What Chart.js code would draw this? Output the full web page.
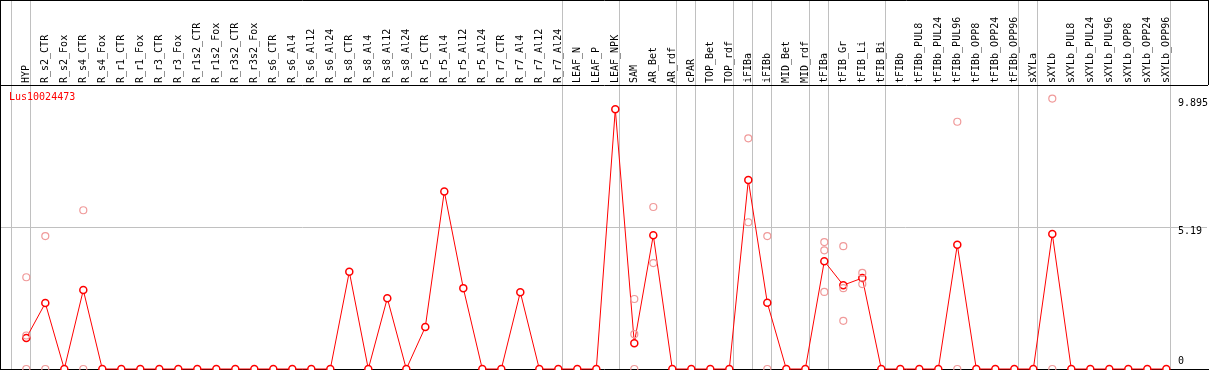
<!DOCTYPE html>
<html>
<head>
<meta charset="utf-8">
<script src="https://cdn.jsdelivr.net/npm/chart.js@4/dist/chart.umd.min.js"></script>
<style>
  body { margin: 0; background: #fff; }
</style>
</head>
<body>
<canvas id="chart1" width="1209" height="370"></canvas>
<script>
// categories along the top (one column each)
var categories = ['HYP', 'R_s2_CTR', 'R_s2_Fox', 'R_s4_CTR', 'R_s4_Fox', 'R_r1_CTR', 'R_r1_Fox',
  'R_r3_CTR', 'R_r3_Fox', 'R_r1s2_CTR', 'R_r1s2_Fox', 'R_r3s2_CTR', 'R_r3s2_Fox',
  'R_s6_CTR', 'R_s6_Al4', 'R_s6_Al12', 'R_s6_Al24', 'R_s8_CTR', 'R_s8_Al4', 'R_s8_Al12', 'R_s8_Al24',
  'R_r5_CTR', 'R_r5_Al4', 'R_r5_Al12', 'R_r5_Al24', 'R_r7_CTR', 'R_r7_Al4', 'R_r7_Al12', 'R_r7_Al24',
  'LEAF_N', 'LEAF_P', 'LEAF_NPK', 'SAM', 'AR_Bet', 'AR_rdf', 'cPAR', 'TOP_Bet', 'TOP_rdf',
  'iFIBa', 'iFIBb', 'MID_Bet', 'MID_rdf', 'tFIBa', 'tFIB_Gr', 'tFIB_Li', 'tFIB_Bi',
  'tFIBb', 'tFIBb_PUL8', 'tFIBb_PUL24', 'tFIBb_PUL96', 'tFIBb_OPP8', 'tFIBb_OPP24', 'tFIBb_OPP96',
  'sXYLa', 'sXYLb', 'sXYLb_PUL8', 'sXYLb_PUL24', 'sXYLb_PUL96', 'sXYLb_OPP8', 'sXYLb_OPP24', 'sXYLb_OPP96'];

// mean expression per category (the red line)
var geneName = 'Lus10024473';
var meanValues = [1.14, 2.42, 0, 2.90, 0, 0, 0, 0, 0, 0, 0, 0, 0,
  0, 0, 0, 0, 3.57, 0, 2.60, 0,
  1.54, 6.52, 2.97, 0, 0, 2.82, 0, 0,
  0, 0, 9.54, 0.95, 4.91, 0, 0, 0, 0,
  6.94, 2.43, 0, 0, 3.96, 3.08, 3.34, 0,
  0, 0, 0, 4.56, 0, 0, 0,
  0, 4.96, 0, 0, 0, 0, 0, 0];

// single replicates (light pink circles)
var repCategory = ['HYP', 'HYP', 'HYP', 'R_s2_CTR', 'R_s2_CTR', 'R_s4_CTR', 'R_s4_CTR',
  'SAM', 'SAM', 'SAM', 'AR_Bet', 'AR_Bet', 'iFIBa', 'iFIBa', 'iFIBb', 'iFIBb',
  'tFIBa', 'tFIBa', 'tFIBa', 'tFIB_Gr', 'tFIB_Gr', 'tFIB_Gr', 'tFIB_Li', 'tFIB_Li',
  'tFIBb_PUL96', 'tFIBb_PUL96', 'sXYLb', 'sXYLb'];
var repValue = [3.37, 1.23, 0, 4.88, 0, 5.83, 0,
  2.57, 1.28, 0, 5.95, 3.89, 8.47, 5.39, 4.88, 0,
  4.66, 4.36, 2.83, 4.51, 2.97, 1.77, 3.53, 3.12,
  9.08, 0, 9.93, 0];

// grey separators sit just right of these columns
var separatorAfter = [-1, 0, 28, 31, 34, 35, 37, 38, 39, 41, 42, 45, 52, 53, 60];

// right hand axis
var yTickValues = [0, 5.19, 9.895];
var yTickLabels = ['0', '5.19', '9.895'];

var monoFont = { family: 'DejaVu Sans Mono', size: 10 };
var sepShift = 4 / 19;

function isSeparator(v) {
  return !Number.isInteger(v);
}

// black frame round header and plot
var framePlugin = {
  id: 'frame',
  beforeDatasetsDraw: function(chart) {
    var ctx = chart.ctx, a = chart.chartArea, w = chart.width, h = chart.height;
    ctx.save();
    ctx.strokeStyle = '#000';
    ctx.lineWidth = 1;
    ctx.beginPath();
    ctx.moveTo(0, 0.5); ctx.lineTo(w, 0.5);
    ctx.moveTo(0.5, 0); ctx.lineTo(0.5, h);
    ctx.moveTo(w - 0.5, 0); ctx.lineTo(w - 0.5, a.top);
    ctx.moveTo(0, a.bottom + 0.5); ctx.lineTo(w, a.bottom + 0.5);
    ctx.stroke();
    ctx.restore();
  }
};

// gene name in the top left corner of the plot
var namePlugin = {
  id: 'geneName',
  afterDraw: function(chart) {
    var ctx = chart.ctx, a = chart.chartArea;
    ctx.save();
    ctx.font = '10px "DejaVu Sans Mono"';
    ctx.fillStyle = '#ff0000';
    ctx.textBaseline = 'middle';
    ctx.fillText(chart.data.datasets[1].label, a.left + 8, a.top + 12);
    ctx.restore();
  }
};

var meanPoints = categories.map(function(c, i) { return { x: i, y: meanValues[i] }; });
var repPoints = repCategory.map(function(c, i) { return { x: categories.indexOf(c), y: repValue[i] }; });

new Chart(document.getElementById('chart1'), {
  type: 'line',
  data: {
    datasets: [{
      type: 'scatter',
      label: 'replicates',
      data: repPoints,
      showLine: false,
      borderColor: '#f09a9a',
      backgroundColor: 'rgba(0,0,0,0)',
      pointRadius: 3.5,
      pointBorderWidth: 1.2,
      clip: false
    }, {
      label: geneName,
      data: meanPoints,
      borderColor: '#ff0000',
      borderWidth: 1,
      tension: 0,
      pointRadius: 3.5,
      pointBorderWidth: 1.5,
      pointBorderColor: '#ff0000',
      pointBackgroundColor: '#ffffff',
      clip: false
    }]
  },
  options: {
    responsive: false,
    animation: false,
    layout: { autoPadding: false, padding: { left: 1, right: 0, top: 0, bottom: 1 } },
    plugins: { legend: { display: false }, tooltip: { enabled: false } },
    scales: {
      x: {
        type: 'linear',
        position: 'top',
        min: (1 - 26.3) / 19,
        max: (1207 - 26.3) / 19,
        afterBuildTicks: function(s) {
          var t = categories.map(function(c, i) { return { value: i }; });
          separatorAfter.forEach(function(k) { t.push({ value: k + sepShift }); });
          t.sort(function(a, b) { return a.value - b.value; });
          s.ticks = t;
        },
        afterFit: function(s) {
          s.height = 85;
          s.paddingLeft = 0;
          s.paddingRight = 0;
        },
        grid: {
          color: function(ctx) {
            return ctx.tick && isSeparator(ctx.tick.value) ? '#c0c0c0' : 'rgba(0,0,0,0)';
          },
          tickLength: 85,
          lineWidth: 1
        },
        border: { display: true, color: '#000', width: 1 },
        ticks: {
          autoSkip: false,
          minRotation: 90,
          maxRotation: 90,
          padding: -83,
          labelOffset: 12.5,
          color: '#000',
          font: monoFont,
          callback: function(v) { return isSeparator(v) ? '' : categories[v]; }
        }
      },
      y: {
        type: 'linear',
        position: 'right',
        min: 0,
        max: 10.43,
        afterBuildTicks: function(s) {
          s.ticks = yTickValues.map(function(v) { return { value: v }; });
        },
        afterFit: function(s) {
          s.paddingTop = 0;
          s.paddingBottom = 0;
        },
        grid: {
          color: function(ctx) {
            return ctx.tick && ctx.tick.value === yTickValues[1] ? '#c0c0c0' : 'rgba(0,0,0,0)';
          },
          drawTicks: false
        },
        border: { display: false },
        ticks: {
          mirror: true,
          crossAlign: 'far',
          padding: 1,
          labelOffset: 4,
          color: '#000',
          font: monoFont,
          callback: function(v, i) {
            // lowest label sits above the baseline
            if (i === 0) return [yTickLabels[i], '', ''];
            return yTickLabels[i];
          }
        }
      }
    }
  },
  plugins: [framePlugin, namePlugin]
});
</script>
</body>
</html>
